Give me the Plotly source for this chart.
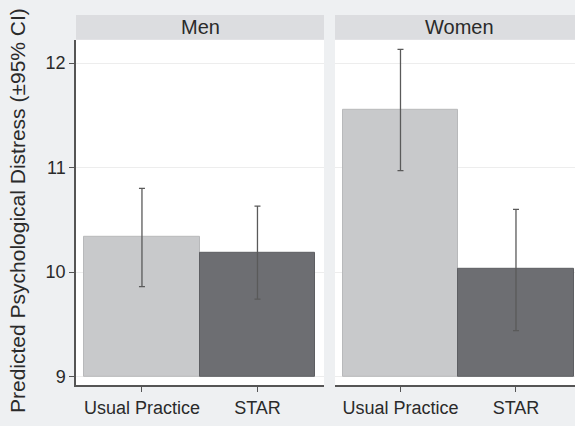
import plotly.graph_objects as go

# Predicted psychological distress by condition, split by sex
groups = ["Men", "Women"]
conditions = ["Usual Practice", "STAR"]
men_mean = [10.34, 10.18]
men_lo = [9.86, 9.74]
men_hi = [10.80, 10.63]
women_mean = [11.55, 10.03]
women_lo = [10.97, 9.44]
women_hi = [12.13, 10.60]
y_ticks = [9, 10, 11, 12]
baseline = 9

bar_colors = ["#c8c9cb", "#6d6e72"]
bar_edges = ["#b8b9bb", "#5d5e62"]
W, H = 575, 426


def px_x(p):
    return p / W


def px_y(p):
    return (H - p) / H


fig = go.Figure()

panels = [
    ("x", "y", men_mean, men_lo, men_hi),
    ("x2", "y2", women_mean, women_lo, women_hi),
]
for xa, ya, mean, lo, hi in panels:
    fig.add_trace(go.Bar(
        x=conditions,
        y=[m - baseline for m in mean],
        base=[baseline] * len(mean),
        width=1,
        marker=dict(color=bar_colors, line=dict(color=bar_edges, width=1)),
        error_y=dict(
            type="data", symmetric=False,
            array=[h - m for h, m in zip(hi, mean)],
            arrayminus=[m - l for m, l in zip(mean, lo)],
            color="#5a5a5a", thickness=1.3, width=3,
        ),
        xaxis=xa, yaxis=ya, showlegend=False,
    ))

font_family = "Arial, Liberation Sans, sans-serif"
text_color = "#2a2a2a"
y_dom = [px_y(387), px_y(40)]
y_rng = [8.917, 12.222]

axis_common = dict(
    showline=True, linecolor="#555555", linewidth=1.5,
    ticks="outside", ticklen=5, tickcolor="#555555", tickwidth=1.3,
    tickfont=dict(family=font_family, size=18, color=text_color),
    zeroline=False, showgrid=False, fixedrange=True,
)

fig.update_layout(
    width=W, height=H,
    margin=dict(l=0, r=0, t=0, b=0),
    paper_bgcolor="#eef0f2",
    plot_bgcolor="#ffffff",
    bargap=0,
    xaxis=dict(domain=[px_x(76), px_x(324)], range=[-0.571, 1.576],
               type="category", anchor="y", **axis_common),
    xaxis2=dict(domain=[px_x(335), 1.0], range=[-0.567, 1.511],
                type="category", anchor="y2", **axis_common),
    yaxis=dict(domain=y_dom, range=y_rng, tickvals=y_ticks,
               showgrid=True, gridcolor="#ededed", gridwidth=1,
               anchor="x", **{k: v for k, v in axis_common.items() if k != "showgrid"}),
    yaxis2=dict(domain=y_dom, range=y_rng, tickvals=y_ticks,
                showgrid=True, gridcolor="#ededed", gridwidth=1,
                showline=False, showticklabels=False, ticks="",
                zeroline=False, anchor="x2", fixedrange=True),
)

# Panel header strips
strips = [(76, 324, 200, groups[0]), (335, 575, 459, groups[1])]
for x0, x1, xc, label in strips:
    fig.add_shape(type="rect", xref="paper", yref="paper",
                  x0=px_x(x0), x1=px_x(x1), y0=px_y(40), y1=px_y(15),
                  fillcolor="#dcdde0", line=dict(width=0), layer="below")
    fig.add_annotation(text=label, xref="paper", yref="paper",
                       x=px_x(xc), y=px_y(27.5), xanchor="center", yanchor="middle",
                       showarrow=False,
                       font=dict(family=font_family, size=20, color=text_color))

# Y axis title
fig.add_annotation(text="Predicted Psychological Distress (±95% CI)",
                   xref="paper", yref="paper", x=px_x(17), y=px_y(212),
                   xanchor="center", yanchor="middle", textangle=-90,
                   showarrow=False,
                   font=dict(family=font_family, size=21, color=text_color))

fig.write_html("out.html")
